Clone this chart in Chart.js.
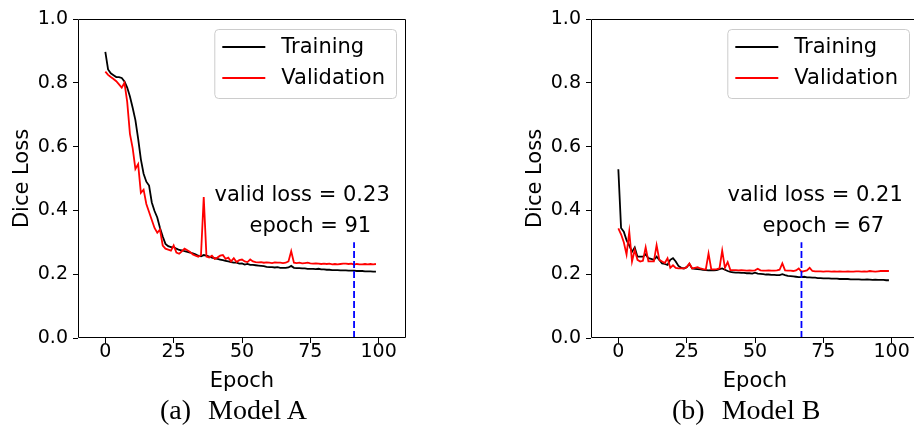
<!DOCTYPE html>
<html>
<head>
<meta charset="utf-8">
<script src="https://cdn.jsdelivr.net/npm/chart.js@4.4.1/dist/chart.umd.min.js"></script>
<style>
    html, body { margin: 0; padding: 0; background: #fff; overflow: hidden; width: 914px; height: 427px; }
    .panel { position: absolute; top: 0; width: 420px; height: 427px; }
    #panelA { left: 0; }
    #panelB { left: 513px; }
    .caption { position: absolute; top: 394px; font-family: 'Liberation Serif', serif; font-size: 28px;
               line-height: 32px; color: #000; white-space: nowrap; }
    .caption .tag { margin-right: 17px; }
</style>
</head>
<body>
<div class="panel" id="panelA"><canvas id="chartA"></canvas></div>
<div class="panel" id="panelB"><canvas id="chartB"></canvas></div>
<div class="caption" style="left:160px"><span class="tag">(a)</span>Model A</div>
<div class="caption" style="left:672px"><span class="tag">(b)</span>Model B</div>
<script>
(function () {
    'use strict';

    // ── 資料 ─────────────────────────────────────────────────
    var xTicks = [0, 25, 50, 75, 100];
    var yTicks = [0, 0.2, 0.4, 0.6, 0.8, 1.0];
    var seriesNames = ['Training', 'Validation'];

    // Model A（每個 epoch 一點，0..99）
    var trainA = [
        0.897, 0.842, 0.830, 0.824, 0.818, 0.818, 0.815, 0.804, 0.785, 0.757,
        0.722, 0.683, 0.625, 0.560, 0.515, 0.490, 0.478, 0.425, 0.398, 0.378,
        0.345, 0.318, 0.295, 0.288, 0.285, 0.285, 0.280, 0.276, 0.275, 0.272,
        0.270, 0.268, 0.265, 0.262, 0.258, 0.256, 0.260, 0.258, 0.255, 0.252,
        0.250, 0.248, 0.246, 0.244, 0.242, 0.240, 0.238, 0.236, 0.236, 0.233,
        0.234, 0.230, 0.232, 0.229, 0.229, 0.228, 0.227, 0.226, 0.225, 0.223,
        0.222, 0.222, 0.221, 0.222, 0.220, 0.220, 0.220, 0.221, 0.226, 0.220,
        0.219, 0.219, 0.218, 0.218, 0.217, 0.217, 0.217, 0.216, 0.217, 0.215,
        0.215, 0.214, 0.214, 0.213, 0.213, 0.213, 0.212, 0.212, 0.212, 0.211,
        0.211, 0.211, 0.210, 0.210, 0.210, 0.209, 0.209, 0.209, 0.208, 0.208
    ];
    var validA = [
        0.835, 0.825, 0.818, 0.812, 0.805, 0.795, 0.785, 0.800, 0.740, 0.640,
        0.595, 0.530, 0.545, 0.455, 0.465, 0.420, 0.395, 0.370, 0.345, 0.330,
        0.340, 0.290, 0.280, 0.277, 0.274, 0.290, 0.268, 0.264, 0.272, 0.280,
        0.275, 0.270, 0.262, 0.258, 0.255, 0.260, 0.442, 0.255, 0.252, 0.258,
        0.248, 0.252, 0.258, 0.260, 0.248, 0.252, 0.240, 0.250, 0.238, 0.244,
        0.246, 0.240, 0.238, 0.246, 0.240, 0.238, 0.237, 0.238, 0.236, 0.237,
        0.236, 0.235, 0.237, 0.236, 0.236, 0.235, 0.236, 0.240, 0.272, 0.236,
        0.235, 0.236, 0.234, 0.235, 0.236, 0.234, 0.233, 0.234, 0.233, 0.232,
        0.233, 0.232, 0.233, 0.231, 0.232, 0.231, 0.232, 0.233, 0.233, 0.232,
        0.233, 0.230, 0.232, 0.231, 0.231, 0.232, 0.231, 0.232, 0.231, 0.232
    ];

    // Model B
    var trainB = [
        0.529, 0.345, 0.333, 0.307, 0.290, 0.270, 0.284, 0.255, 0.255, 0.255,
        0.262, 0.250, 0.248, 0.245, 0.255, 0.245, 0.234, 0.232, 0.229, 0.245,
        0.250, 0.240, 0.226, 0.220, 0.218, 0.222, 0.232, 0.218, 0.217, 0.216,
        0.215, 0.214, 0.213, 0.212, 0.213, 0.212, 0.213, 0.216, 0.218, 0.214,
        0.210, 0.207, 0.206, 0.205, 0.205, 0.204, 0.204, 0.203, 0.203, 0.202,
        0.205, 0.202, 0.201, 0.200, 0.199, 0.199, 0.198, 0.198, 0.197, 0.197,
        0.200, 0.197, 0.195, 0.194, 0.193, 0.192, 0.191, 0.191, 0.192, 0.190,
        0.190, 0.189, 0.189, 0.188, 0.188, 0.187, 0.187, 0.187, 0.186, 0.186,
        0.186, 0.185, 0.185, 0.185, 0.185, 0.184, 0.184, 0.184, 0.184, 0.183,
        0.183, 0.184, 0.183, 0.182, 0.183, 0.182, 0.182, 0.182, 0.181, 0.181
    ];
    var validB = [
        0.344, 0.325, 0.300, 0.262, 0.333, 0.240, 0.276, 0.245, 0.240, 0.242,
        0.284, 0.240, 0.240, 0.240, 0.291, 0.245, 0.240, 0.235, 0.250, 0.220,
        0.228, 0.220, 0.218, 0.218, 0.218, 0.222, 0.234, 0.218, 0.220, 0.222,
        0.218, 0.216, 0.215, 0.265, 0.216, 0.215, 0.216, 0.218, 0.274, 0.220,
        0.238, 0.213, 0.213, 0.213, 0.212, 0.213, 0.212, 0.211, 0.212, 0.211,
        0.212, 0.217, 0.212, 0.211, 0.211, 0.212, 0.211, 0.211, 0.212, 0.214,
        0.234, 0.212, 0.211, 0.211, 0.210, 0.212, 0.218, 0.208, 0.210, 0.212,
        0.220, 0.210, 0.209, 0.209, 0.209, 0.208, 0.209, 0.209, 0.208, 0.209,
        0.208, 0.209, 0.208, 0.208, 0.209, 0.208, 0.208, 0.209, 0.209, 0.208,
        0.209, 0.208, 0.210, 0.209, 0.208, 0.209, 0.210, 0.210, 0.210, 0.210
    ];

    var bestEpochA = 91, bestLossA = '0.23';
    var bestEpochB = 67, bestLossB = '0.21';
    var markerTop = 0.3;

    var FONT = "'DejaVu Sans', sans-serif";
    Chart.defaults.font.family = FONT;
    Chart.defaults.color = '#000';

    function toPoints(arr) {
        return arr.map(function (v, i) { return { x: i, y: v }; });
    }

    // ── 外框、註解文字、圖例 ─────────────────────────────────
    var overlayPlugin = {
        id: 'overlay',
        afterDatasetsDraw: function (chart, args, opts) {
            var ctx = chart.ctx, a = chart.chartArea;
            var sx = chart.scales.x, sy = chart.scales.y;
            ctx.save();

            // 外框（右邊框在 B 圖已超出畫面）
            ctx.strokeStyle = '#000';
            ctx.lineWidth = 1;
            var l = Math.round(a.left) + 0.5, t = Math.round(a.top) + 0.5;
            var r = Math.round(a.right) - 0.5, b = Math.round(a.bottom) - 0.5;
            ctx.beginPath();
            ctx.moveTo(r, t); ctx.lineTo(l, t); ctx.lineTo(l, b); ctx.lineTo(r, b);
            if (opts.rightSpine) ctx.lineTo(r, t);
            ctx.stroke();

            // 註解
            ctx.fillStyle = '#000';
            ctx.font = '21px ' + FONT;
            ctx.textAlign = 'center';
            ctx.textBaseline = 'alphabetic';
            opts.notes.forEach(function (n) {
                ctx.fillText(n.text, sx.getPixelForValue(n.x), sy.getPixelForValue(n.y));
            });

            // 圖例
            var items = [
                { label: seriesNames[0], color: '#000000' },
                { label: seriesNames[1], color: '#ff0000' }
            ];
            var tw = 0;
            items.forEach(function (it) { tw = Math.max(tw, ctx.measureText(it.label).width); });
            var bw = 67 + tw + 11, bh = 69;
            var bx = a.right - 10 - bw, by = a.top + 10;
            ctx.beginPath();
            ctx.roundRect(bx + 0.5, by + 0.5, bw, bh, 4);
            ctx.fillStyle = 'rgba(255,255,255,0.8)';
            ctx.fill();
            ctx.strokeStyle = '#cccccc';
            ctx.stroke();
            ctx.textAlign = 'left';
            ctx.textBaseline = 'middle';
            items.forEach(function (it, i) {
                var cy = by + 18 + i * 31;
                ctx.strokeStyle = it.color;
                ctx.lineWidth = 2;
                ctx.beginPath();
                ctx.moveTo(bx + 8, cy);
                ctx.lineTo(bx + 51, cy);
                ctx.stroke();
                ctx.fillStyle = '#000';
                ctx.fillText(it.label, bx + 67, cy + 1);
            });
            ctx.restore();
        }
    };

    function makeChart(id, train, valid, bestEpoch, bestLoss, rightSpine) {
        return new Chart(document.getElementById(id), {
            type: 'line',
            data: {
                datasets: [{
                    data: [{ x: bestEpoch, y: 0 }, { x: bestEpoch, y: markerTop }],
                    borderColor: '#0000ff',
                    borderDash: [7, 3],
                    borderWidth: 1.8
                }, {
                    label: seriesNames[1],
                    data: toPoints(valid),
                    borderColor: '#ff0000',
                    borderWidth: 1.8
                }, {
                    label: seriesNames[0],
                    data: toPoints(train),
                    borderColor: '#000000',
                    borderWidth: 1.8
                }]
            },
            options: {
                responsive: true,
                maintainAspectRatio: false,
                animation: false,
                layout: { padding: { top: 19, right: 14, left: 0, bottom: 0 } },
                elements: { point: { radius: 0 }, line: { tension: 0, fill: false } },
                plugins: {
                    legend: { display: false },
                    tooltip: { enabled: false },
                    overlay: {
                        rightSpine: rightSpine,
                        notes: [
                            { text: 'valid loss = ' + bestLoss, x: 72, y: 0.43 },
                            { text: 'epoch = ' + bestEpoch, x: 75, y: 0.333 }
                        ]
                    }
                },
                scales: {
                    x: {
                        type: 'linear',
                        min: -10,
                        max: 110,
                        afterBuildTicks: function (s) {
                            s.ticks = xTicks.map(function (v) { return { value: v }; });
                        },
                        afterFit: function (s) { s.height = 89; },
                        border: { display: false },
                        grid: { drawOnChartArea: false, drawTicks: true, tickLength: 5, color: '#000' },
                        ticks: {
                            font: { size: 19, lineHeight: 1 },
                            color: '#000',
                            padding: 0,
                            maxRotation: 0,
                            callback: function (v) { return String(v); }
                        },
                        title: {
                            display: true,
                            text: 'Epoch',
                            color: '#000',
                            font: { size: 21 },
                            padding: { top: 0, bottom: 33 }
                        }
                    },
                    y: {
                        min: 0,
                        max: 1,
                        afterBuildTicks: function (s) {
                            s.ticks = yTicks.map(function (v) { return { value: v }; });
                        },
                        afterFit: function (s) { s.width = 78; },
                        border: { display: false },
                        grid: { drawOnChartArea: false, drawTicks: true, tickLength: 5, color: '#000' },
                        ticks: {
                            font: { size: 19 },
                            color: '#000',
                            padding: 5,
                            callback: function (v) { return v.toFixed(1); }
                        },
                        title: {
                            display: true,
                            text: 'Dice Loss',
                            color: '#000',
                            font: { size: 21 },
                            padding: { top: 10, bottom: 0 }
                        }
                    }
                }
            },
            plugins: [overlayPlugin]
        });
    }

    makeChart('chartA', trainA, validA, bestEpochA, bestLossA, true);
    makeChart('chartB', trainB, validB, bestEpochB, bestLossB, false);
})();
</script>
</body>
</html>
